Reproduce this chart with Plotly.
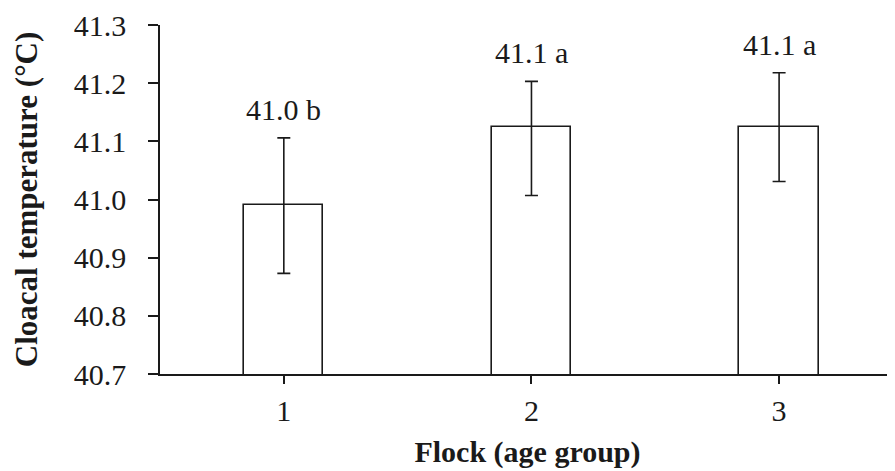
import plotly.graph_objects as go

flocks = [1, 2, 3]
means = [40.990, 41.124, 41.124]
err_plus = [0.116, 0.079, 0.094]
err_minus = [0.117, 0.117, 0.093]
labels = ["41.0 b", "41.1 a", "41.1 a"]
y_ticks = [40.7, 40.8, 40.9, 41.0, 41.1, 41.2, 41.3]
y_ticktext = ["40.7", "40.8", "40.9", "41.0", "41.1", "41.2", "41.3"]

FONT = "Liberation Serif, Times New Roman, serif"
INK = "#1a1a1a"
fig = go.Figure()
fig.add_trace(go.Bar(
    x=flocks, y=means, width=0.32,
    marker=dict(color="white", line=dict(color=INK, width=1.6)),
    error_y=dict(type="data", symmetric=False, array=err_plus, arrayminus=err_minus,
                 color=INK, thickness=1.6, width=6.5),
    showlegend=False,
))

for xv, m, e, t in zip(flocks, means, err_plus, labels):
    fig.add_annotation(x=xv, y=m + e, text=t, showarrow=False, yanchor="bottom",
                       yshift=10, font=dict(family=FONT, size=30, color=INK))

fig.update_layout(
    width=887, height=463,
    margin=dict(l=152, r=0, t=17, b=97),
    plot_bgcolor="white", paper_bgcolor="white",
    font=dict(family=FONT, size=30, color=INK),
    bargap=0,
)
fig.update_xaxes(
    type="linear", range=[0.5, 3.468], tickvals=flocks, ticktext=[str(f) for f in flocks],
    showline=True, linecolor=INK, linewidth=1.6, showgrid=False, zeroline=False,
    ticks="outside", ticklen=8, tickwidth=1.6, tickcolor=INK, ticklabelstandoff=1,
    title=dict(text="<b>Flock (age group)</b>", font=dict(family=FONT, size=30), standoff=15),
)
fig.update_yaxes(
    range=[40.7, 41.3], tickvals=y_ticks, ticktext=y_ticktext,
    showline=True, linecolor=INK, linewidth=1.6, showgrid=False, zeroline=False,
    ticks="outside", ticklen=10, tickwidth=1.6, tickcolor=INK, ticklabelstandoff=16,
    title=dict(text="<b>Cloacal temperature (°C)</b>", font=dict(family=FONT, size=31), standoff=27),
)
fig.write_html("out.html")
